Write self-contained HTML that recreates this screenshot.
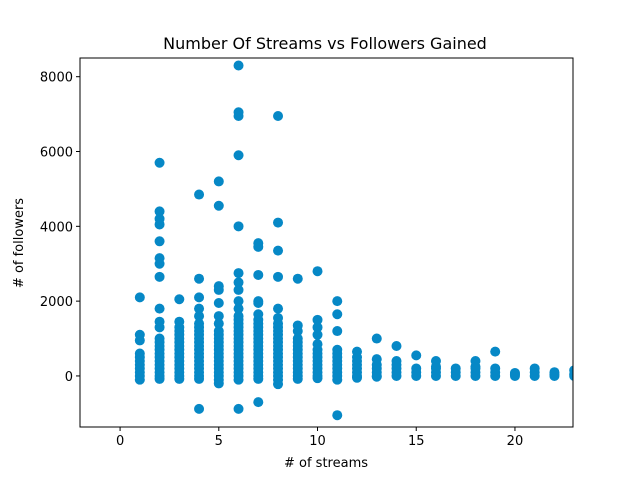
<!DOCTYPE html>
<html><head><meta charset="utf-8"><style>
body{margin:0;background:#fff;}
svg{font-family:"DejaVu Sans","Liberation Sans",sans-serif;}
</style></head><body>
<svg id="chart" width="636" height="481">
<text x="325" y="49" text-anchor="middle" font-size="16">Number Of Streams vs Followers Gained</text>
<g id="marks"></g>
<rect x="80" y="58" width="493" height="369" fill="none" stroke="#000" stroke-width="1"/>
<g id="axes"></g>
<text x="326" y="467" text-anchor="middle" font-size="13"># of streams</text>
<text transform="translate(23,243) rotate(-90)" text-anchor="middle" font-size="13"># of followers</text>
</svg>
<script>
const streams=[1,2,3,4,5,6,7,8,9,10,11,12,13,14,15,16,17,18,19,20,21,22,23];
const followers=[
[-100,0,100,200,300,400,500,600,950,1100,2100],
[-80,0,100,200,300,400,500,600,700,800,900,1000,1300,1450,1800,2650,3000,3150,3600,4050,4200,4400,5700],
[-80,0,100,200,300,400,500,600,700,800,900,1000,1100,1200,1300,1450,2050],
[-880,-80,0,100,200,300,400,500,600,700,800,900,1000,1100,1200,1300,1400,1600,1800,2100,2600,4850],
[-200,-100,0,100,200,300,400,500,600,700,800,900,1000,1100,1200,1400,1600,1950,2300,2400,4550,5200],
[-880,-100,0,100,200,300,400,500,600,700,800,900,1000,1100,1200,1300,1400,1500,1600,1800,2000,2300,2500,2750,4000,5900,6950,7050,8300],
[-700,-80,0,100,200,300,400,500,600,700,800,900,1000,1100,1200,1300,1400,1500,1650,1950,2000,2700,3450,3550],
[-220,-100,0,100,200,300,400,500,600,700,800,900,1000,1100,1200,1300,1400,1550,1800,2650,3350,4100,6950],
[-80,0,100,200,300,400,500,600,700,800,900,1000,1200,1350,2600],
[-60,0,100,200,300,400,500,600,700,850,1100,1300,1500,2800],
[-1050,-100,0,100,200,300,400,500,600,700,1200,1650,2000],
[-50,0,100,200,300,400,500,650],
[-20,0,100,200,300,450,1000],
[0,100,200,300,400,800],
[0,100,200,550],
[0,100,200,250,400],
[0,100,200],
[0,100,200,250,400],
[0,100,200,650],
[0,50,80],
[0,100,200],
[0,50,100],
[0,50,150]
];
const xTicks=[0,5,10,15,20];
const yTicks=[0,2000,4000,6000,8000];
const X0=80,X1=573,Y0=58,Y1=427,xmin=-2.03,xmax=22.94,ymin=-1365,ymax=8500;
const sx=v=>X0+(v-xmin)/(xmax-xmin)*(X1-X0);
const sy=v=>Y1-(v-ymin)/(ymax-ymin)*(Y1-Y0);
const NS="http://www.w3.org/2000/svg";
const marks=document.getElementById('marks');
const axes=document.getElementById('axes');
const cp=document.createElementNS(NS,'clipPath');cp.setAttribute('id','clip');
const cr=document.createElementNS(NS,'rect');cr.setAttribute('x',X0);cr.setAttribute('y',Y0);cr.setAttribute('width',X1-X0);cr.setAttribute('height',Y1-Y0);
cp.appendChild(cr);document.getElementById('chart').appendChild(cp);
marks.setAttribute('clip-path','url(#clip)');
streams.forEach((s,i)=>{followers[i].forEach(v=>{
const c=document.createElementNS(NS,'circle');
c.setAttribute('cx',sx(s));c.setAttribute('cy',sy(v));c.setAttribute('r',5);c.setAttribute('fill','#0688c6');


marks.appendChild(c);});});
xTicks.forEach(t=>{
const l=document.createElementNS(NS,'line');l.setAttribute('x1',sx(t));l.setAttribute('x2',sx(t));l.setAttribute('y1',Y1);l.setAttribute('y2',Y1+4);l.setAttribute('stroke','#000');


axes.appendChild(l);
const tx=document.createElementNS(NS,'text');tx.setAttribute('x',sx(t));tx.setAttribute('y',Y1+18);tx.setAttribute('text-anchor','middle');tx.setAttribute('font-size','13');tx.textContent=t;


axes.appendChild(tx);});
yTicks.forEach(t=>{
const l=document.createElementNS(NS,'line');l.setAttribute('x1',X0-4);l.setAttribute('x2',X0);l.setAttribute('y1',sy(t));l.setAttribute('y2',sy(t));l.setAttribute('stroke','#000');


axes.appendChild(l);
const tx=document.createElementNS(NS,'text');tx.setAttribute('x',X0-7);tx.setAttribute('y',sy(t)+5);tx.setAttribute('text-anchor','end');tx.setAttribute('font-size','13');tx.textContent=t;


axes.appendChild(tx);});
</script>
</body></html>
